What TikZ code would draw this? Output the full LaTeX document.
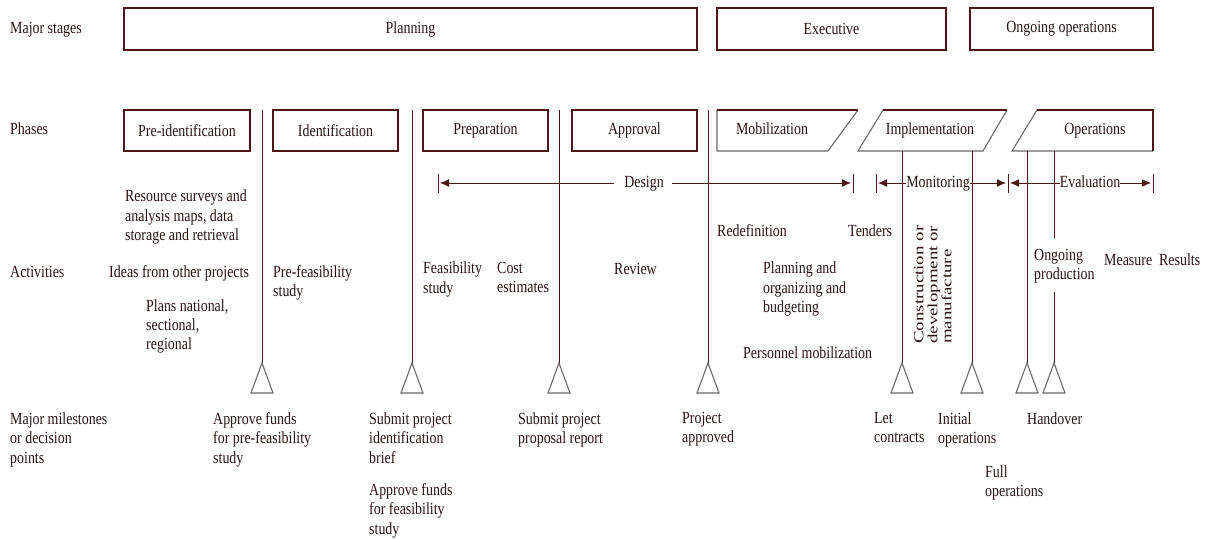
\documentclass[tikz,border=0pt]{standalone}
\usepackage{fontspec}
\setmainfont{Liberation Serif}[FakeStretch=0.82]
\newfontfamily\widefont{Liberation Serif}[FakeStretch=1.35]
\usetikzlibrary{arrows.meta}
\definecolor{ln}{RGB}{75,22,22}
\definecolor{tx}{RGB}{40,18,18}
\definecolor{gr}{RGB}{105,105,105}
\tikzset{
  stagebox/.style={draw=ln, line width=1.2pt, inner sep=0pt, text=tx, minimum height=42pt},
  phasebox/.style={draw=ln, line width=1.2pt, inner sep=0pt, text=tx, minimum height=41pt, minimum width=126pt},
  lbl/.style={text=tx, inner sep=0pt, anchor=west, text height=12pt, text depth=4pt},
  clbl/.style={text=tx, inner sep=0pt, text height=12pt, text depth=4pt},
  ml/.style={text=tx, inner sep=0pt, anchor=north west, align=left},
  vl/.style={draw=ln, line width=1pt},
  tri/.style={draw=gr, line width=1.1pt, line join=miter},
  arr/.style={draw=ln, line width=1pt, -{Latex[length=9pt,width=8pt]}},
  barl/.style={draw=ln, line width=1pt},
  para/.style={draw=gr, line width=1.1pt},
  paratop/.style={draw=ln, line width=1.2pt}
}
\begin{document}
\begin{tikzpicture}[x=1pt,y=-1pt,font=\fontsize{17}{19.5}\selectfont]
\useasboundingbox (0,0) rectangle (1207,538);

% row labels
\node[lbl] (lstages) at (10,29) {Major stages};
\node[lbl] (lphases) at (10,130) {Phases};
\node[lbl] (lact) at (10,273) {Activities};
\node[ml] (lmile) at (10,412) {Major milestones\\or decision\\points};

% major stages
\node[stagebox, minimum width=573pt] (planning) at (410.5,29) {Planning};
\node[stagebox, minimum width=229pt] (executive) at (831.5,29) {Executive};
\node[stagebox, minimum width=183pt] (ongoing) at (1061.5,29) {Ongoing operations};

% phases (rectangles)
\node[phasebox] (preid) at (187,130.5) {Pre-identification};
\node[phasebox, minimum width=125pt] (ident) at (335.5,130.5) {Identification};
\node[phasebox, minimum width=125pt] (prep) at (485.5,130.5) {Preparation};
\node[phasebox, minimum width=125pt] (appr) at (634.5,130.5) {Approval};

% phases (parallelograms)
\coordinate (mobA) at (717,110); \coordinate (mobB) at (858,110);
\coordinate (mobC) at (828,151); \coordinate (mobD) at (717,151);
\draw[para] (mobB) -- (mobC) -- (mobD) -- (mobA);
\draw[paratop] (mobA) -- (mobB);
\node[clbl] (mob) at (772,130.5) {Mobilization};

\coordinate (impA) at (883,110); \coordinate (impB) at (1007,110);
\coordinate (impC) at (983,151); \coordinate (impD) at (858,151);
\draw[para] (impB) -- (impC) -- (impD) -- (impA);
\draw[paratop] (impA) -- (impB);
\node[clbl] (impl) at (930,130.5) {Implementation};

\coordinate (opA) at (1037,110); \coordinate (opB) at (1153,110);
\coordinate (opC) at (1153,151); \coordinate (opD) at (1012,151);
\draw[para] (opC) -- (opD) -- (opA);
\draw[paratop] (opA) -- (opB) -- (opC);
\node[clbl] (ops) at (1095,130.5) {Operations};

% milestone triangles
\foreach \n/\x in {1/262,2/412,3/559,4/708,5/902,6/972,7/1027,8/1054}{
  \coordinate (m\n) at (\x,363);
  \draw[tri] (m\n) -- ++(-11,30) -- ++(22,0) -- cycle;
}

% vertical lines
\coordinate (v1) at (262,110);
\coordinate (v2) at (412,110);
\coordinate (v3) at (559,110);
\coordinate (v4) at (708,110);
\coordinate (v5) at (902,151);
\coordinate (v6) at (972,151);
\coordinate (v7) at (1027,151);
\coordinate (v8) at (1054,151);
\coordinate (v8a) at (1054,238);
\coordinate (v8b) at (1054,292);
\draw[vl] (v1) -- (m1);
\draw[vl] (v2) -- (m2);
\draw[vl] (v3) -- (m3);
\draw[vl] (v4) -- (m4);
\draw[vl] (v5) -- (m5);
\draw[vl] (v6) -- (m6);
\draw[vl] (v7) -- (m7);
\draw[vl] (v8) -- (v8a);
\draw[vl] (v8b) -- (m8);

% Design arrow
\node[clbl] (design) at (644,183) {Design};
\coordinate (dL) at (440,183); \coordinate (dR) at (851,183);
\coordinate (dLb1) at (438,174); \coordinate (dLb2) at (438,193);
\coordinate (dRb1) at (853,174); \coordinate (dRb2) at (853,193);
\draw[arr] ([xshift=-10pt]design.west) -- (dL);
\draw[arr] ([xshift=8pt]design.east) -- (dR);
\draw[barl] (dLb1) -- (dLb2);
\draw[barl] (dRb1) -- (dRb2);

% Monitoring arrow
\node[clbl] (monit) at (938,183) {Monitoring};
\coordinate (mL) at (878,183); \coordinate (mR) at (1006,183);
\coordinate (mLb1) at (876,174); \coordinate (mLb2) at (876,193);
\coordinate (mRb1) at (1008,174); \coordinate (mRb2) at (1008,193);
\draw[arr] (monit.west) -- (mL);
\draw[arr] (monit.east) -- (mR);
\draw[barl] (mLb1) -- (mLb2);
\draw[barl] (mRb1) -- (mRb2);

% Evaluation arrow
\node[clbl] (evalu) at (1090,183) {Evaluation};
\coordinate (eL) at (1010,183); \coordinate (eR) at (1151,183);
\coordinate (eRb1) at (1153,174); \coordinate (eRb2) at (1153,193);
\draw[arr] (evalu.west) -- (eL);
\draw[arr] (evalu.east) -- (eR);
\draw[barl] (eRb1) -- (eRb2);

% activities
\node[ml] (res) at (125,190) {Resource surveys and\\analysis maps, data\\storage and retrieval};
\node[lbl] (ideas) at (109,273) {Ideas from other projects};
\node[ml] (plans) at (146,299) {Plans national,\\sectional,\\regional};
\node[ml] (prefeas) at (273,265) {Pre-feasibility\\study};
\node[ml] (feas) at (423,262) {Feasibility\\study};
\node[ml] (cost) at (497,262) {Cost\\estimates};
\node[lbl] (review) at (614,270) {Review};
\node[lbl] (redef) at (717,232) {Redefinition};
\node[lbl] (tenders) at (848,232) {Tenders};
\node[ml] (planorg) at (763,262) {Planning and\\organizing and\\budgeting};
\node[lbl] (persmob) at (743,354) {Personnel mobilization};
\node[text=tx, inner sep=0pt, anchor=north west, align=left, rotate=90,
      font=\widefont\fontsize{14}{14}\selectfont] (constr) at (914,344)
      {Construction or\\development or\\manufacture};
\node[ml] (ongprod) at (1034,249) {Ongoing\\production};
\node[lbl] (measure) at (1104,261) {Measure\ \ Results};

% milestones
\node[ml] (ms1) at (213,412) {Approve funds\\for pre-feasibility\\study};
\node[ml] (ms2) at (369,412) {Submit project\\identification\\brief};
\node[ml] (ms2b) at (369,483) {Approve funds\\for feasibility\\study};
\node[ml] (ms3) at (518,412) {Submit project\\proposal report};
\node[ml] (ms4) at (682,412) {Project\\approved};
\node[ml] (ms5) at (874,412) {Let\\contracts};
\node[ml] (ms6) at (938,412) {Initial\\operations};
\node[ml] (ms6b) at (985,465) {Full\\operations};
\node[lbl] (ms7) at (1027,420) {Handover};
\end{tikzpicture}
\end{document}
